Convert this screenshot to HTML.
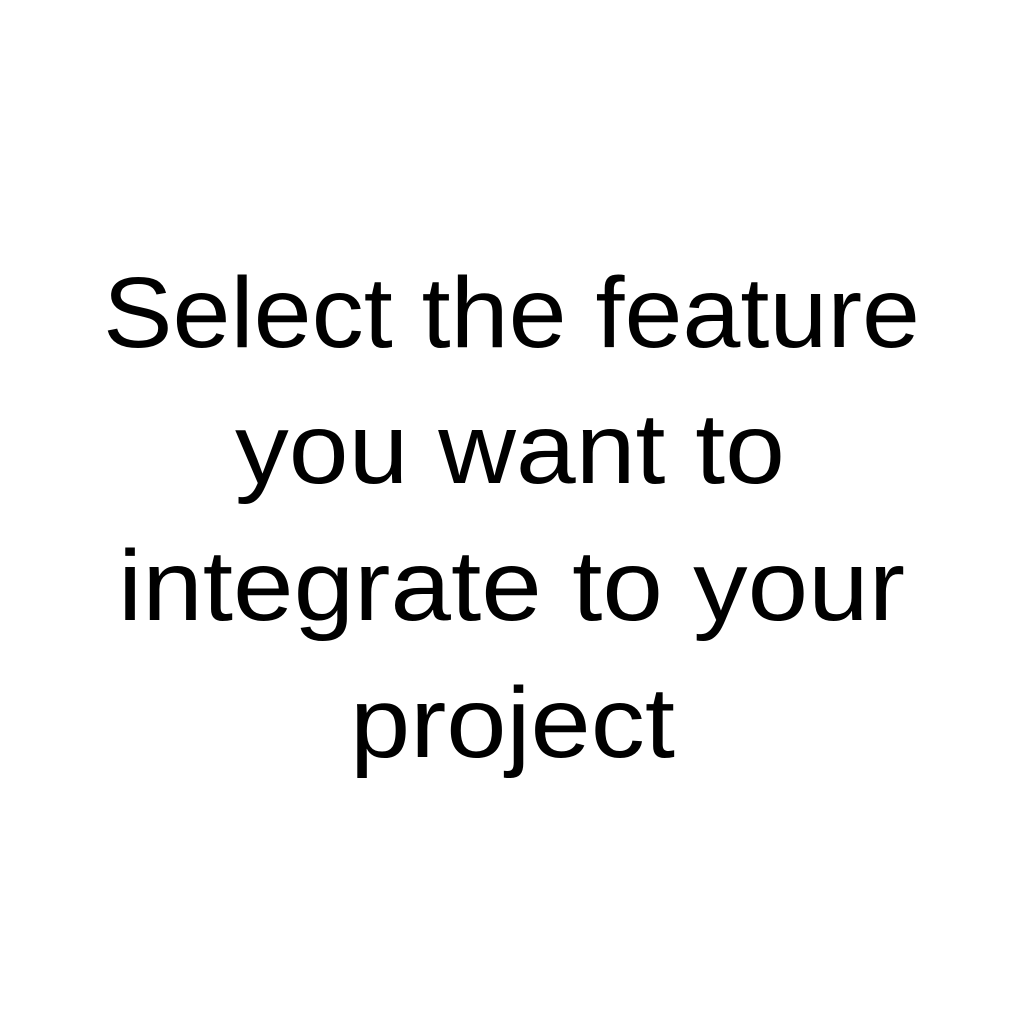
<!DOCTYPE html>
<html>
<head>
<meta charset="utf-8">
<style>
  html, body { margin: 0; padding: 0; background: #fff; }
  svg { display: block; }
</style>
</head>
<body>
<svg width="1024" height="1024" viewBox="0 0 1024 1024" xmlns="http://www.w3.org/2000/svg">
  <rect width="1024" height="1024" fill="#fff"/>
  <g font-family="'Liberation Sans', 'DejaVu Sans', sans-serif" font-size="100" fill="#000">
    <text x="103" y="347" textLength="817" lengthAdjust="spacingAndGlyphs">Select the feature</text>
    <text x="235" y="483" textLength="550" lengthAdjust="spacingAndGlyphs">you want to</text>
    <text x="118" y="620" textLength="787" lengthAdjust="spacingAndGlyphs">integrate to your</text>
    <text x="350" y="757" textLength="325" lengthAdjust="spacingAndGlyphs">project</text>
  </g>
</svg>
</body>
</html>
